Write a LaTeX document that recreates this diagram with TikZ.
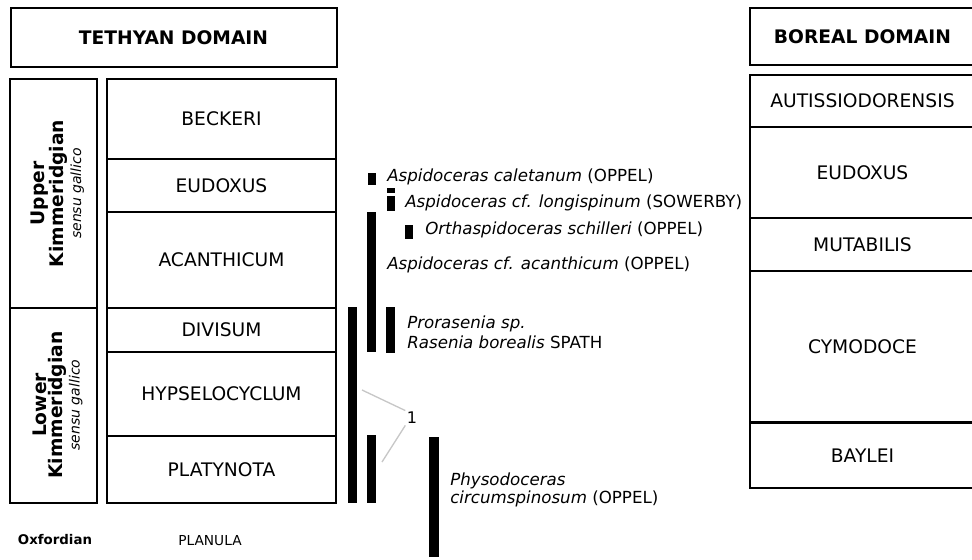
\documentclass[tikz,border=0pt]{standalone}
\usepackage{fontspec}
\setmainfont{DejaVu Sans}
\usepackage{tikz}

\tikzset{
  zone/.style={draw, rectangle, line width=1.5pt, inner sep=0pt, font=\fontsize{14}{16}\selectfont},
  head/.style={zone, font=\fontsize{14}{16}\selectfont\bfseries},
  stagetxt/.style={rotate=90, align=center, inner sep=0pt, font=\fontsize{14}{12}\selectfont\bfseries},
  bar/.style={fill=black, inner sep=0pt, minimum width=6.75pt},
  taxon/.style={anchor=west, inner sep=0pt, align=left, font=\fontsize{12.5}{15}\selectfont},
  leader/.style={draw=black!22, line width=1pt}
}

\begin{document}
\begin{tikzpicture}[x=0.75pt, y=-0.75pt]
\useasboundingbox (0,0) rectangle (972,560);
\clip (0,0) rectangle (972,560);

% domains
\node[head, minimum width=244.5pt, minimum height=44.25pt] (teth) at (173.5,37.5) {TETHYAN DOMAIN};
\node[head, minimum width=168.75pt, minimum height=42.75pt] (bor) at (862.5,36.5) {BOREAL DOMAIN};

% stages
\node[zone, minimum width=65.25pt, minimum height=171.75pt] (upper) at (53.5,193.5) {};
\node[stagetxt] (uppertxt) at (57.5,193.5) {Upper\\Kimmeridgian\\[1pt]{\fontsize{10.5}{12}\selectfont\mdseries\itshape sensu gallico}};
\node[zone, minimum width=65.25pt, minimum height=146.25pt] (lower) at (53.5,405.5) {};
\node[stagetxt] (lowertxt) at (57.5,405) {Lower\\Kimmeridgian\\[1pt]{\fontsize{10.5}{12}\selectfont\mdseries\itshape sensu gallico}};
\node[font=\fontsize{10}{12}\selectfont\bfseries, inner sep=0pt] (oxf) at (55,540) {Oxfordian};

% tethyan zones
\node[zone, minimum width=171.75pt, minimum height=60pt] (beck) at (221.5,119) {BECKERI};
\node[zone, minimum width=171.75pt, minimum height=39.75pt] (eudt) at (221.5,185.5) {EUDOXUS};
\node[zone, minimum width=171.75pt, minimum height=72pt] (acan) at (221.5,260) {ACANTHICUM};
\node[zone, minimum width=171.75pt, minimum height=33pt] (divi) at (221.5,330) {DIVISUM};
\node[zone, minimum width=171.75pt, minimum height=63pt] (hyps) at (221.5,394) {HYPSELOCYCLUM};
\node[zone, minimum width=171.75pt, minimum height=50.25pt] (plat) at (221.5,469.5) {PLATYNOTA};
\node[font=\fontsize{10.3}{12}\selectfont, inner sep=0pt] (plan) at (210,541) {PLANULA};

% boreal zones
\node[zone, minimum width=168.75pt, minimum height=39pt] (auti) at (862.5,101) {AUTISSIODORENSIS};
\node[zone, minimum width=168.75pt, minimum height=68.25pt] (eudb) at (862.5,172.5) {EUDOXUS};
\node[zone, minimum width=168.75pt, minimum height=39.75pt] (muta) at (862.5,244.5) {MUTABILIS};
\node[zone, minimum width=168.75pt, minimum height=113.25pt] (cymo) at (862.5,346.5) {CYMODOCE};
\node[zone, minimum width=168.75pt, minimum height=48.75pt] (bayl) at (862.5,455.5) {BAYLEI};

% ranges
\node[bar, minimum height=147pt] (barA) at (352.5,405) {};
\node[bar, minimum height=105pt] (barB) at (371.5,282) {};
\node[bar, minimum height=51pt] (barBlow) at (371.5,469) {};
\node[bar, minimum height=34.5pt] (barPro) at (390.5,330) {};
\node[bar, minimum width=6pt, minimum height=9pt] (barCal) at (372,179) {};
\node[bar, minimum width=6pt, minimum height=3.75pt] (barLonA) at (391,190.5) {};
\node[bar, minimum width=6pt, minimum height=11.25pt] (barLonB) at (391,203.5) {};
\node[bar, minimum width=6pt, minimum height=10.5pt] (barSch) at (409,232) {};
\node[bar, minimum width=7.5pt, minimum height=90pt] (barPhy) at (434,497) {};

% taxa
\node[taxon] (cal) at (387,177) {\textit{Aspidoceras caletanum} (OPPEL)};
\node[taxon] (lon) at (405,203) {\textit{Aspidoceras cf. longispinum} (SOWERBY)};
\node[taxon] (sch) at (425,230) {\textit{Orthaspidoceras schilleri} (OPPEL)};
\node[taxon] (aca) at (387,265) {\textit{Aspidoceras cf. acanthicum} (OPPEL)};
\node[taxon] (pro) at (407,332) {\textit{Prorasenia sp.}\\\textit{Rasenia borealis} SPATH};
\node[taxon, font=\fontsize{12.5}{9}\selectfont] (phy) at (450,490) {\textit{Physodoceras}\\\textit{circumspinosum} (OPPEL)};

% note 1
\node[font=\fontsize{12}{14}\selectfont, inner sep=1pt] (one) at (412,418) {1};
\coordinate (ptA) at (362,390);
\coordinate (ptB) at (382,462);
\draw[leader] (ptA) -- (one.north west);
\draw[leader] (ptB) -- (one.south west);
\end{tikzpicture}
\end{document}
